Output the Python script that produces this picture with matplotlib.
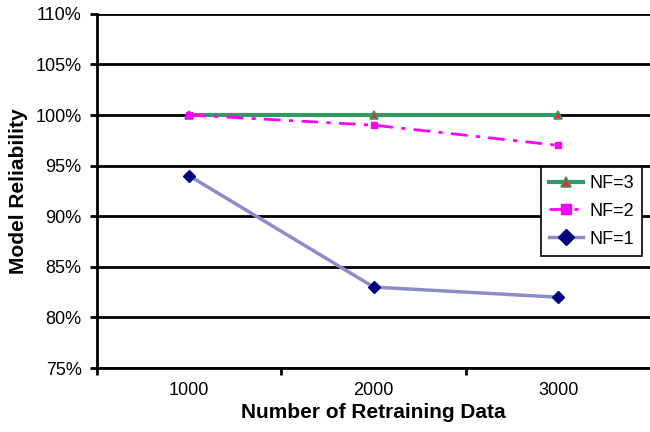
import matplotlib.pyplot as plt
from matplotlib.ticker import FuncFormatter, FixedLocator

# Model reliability vs. amount of retraining data
retrain_sizes = ["1000", "2000", "3000"]
nf3 = [100, 100, 100]
nf2 = [100, 99, 97]
nf1 = [94, 83, 82]

plt.rcParams['font.family'] = ['Liberation Sans', 'DejaVu Sans']

fig = plt.figure(figsize=(6.5, 4.32), dpi=100)
ax = fig.add_axes([0.149, 0.148, 0.852, 0.82])

x = list(range(len(retrain_sizes)))

ax.plot(x, nf3, color='#339966', lw=3, marker='^', ms=6,
        mfc='#ff2020', mec='#339966', mew=1.2, label='NF=3', zorder=4)
ax.plot(x, nf2, color='#ff00ff', lw=2, ls=(0, (6, 3, 1.5, 3)), marker='s', ms=5,
        mfc='#ff00ff', mec='#ff00ff', label='NF=2', zorder=5)
ax.plot(x, nf1, color='#8c8cc8', lw=2.5, marker='D', ms=6,
        mfc='#000080', mec='#000080', label='NF=1', zorder=3)

ax.set_xlim(-0.5, 2.5)
ax.set_ylim(75, 110)
ax.set_xticks(x)
ax.set_xticklabels(retrain_sizes)
ax.xaxis.set_minor_locator(FixedLocator([-0.5, 0.5, 1.5, 2.5]))
ax.tick_params(axis='x', which='major', length=0, labelsize=13, pad=10)
ax.tick_params(axis='x', which='minor', length=5, width=2, direction='out')
ax.set_yticks(range(75, 111, 5))
ax.yaxis.set_major_formatter(FuncFormatter(lambda v, p: '%d%%' % v))
ax.tick_params(axis='y', length=5, width=2, labelsize=13, pad=6)

ax.grid(axis='y', color='black', lw=2)
ax.set_axisbelow(True)
for s in ['top', 'right']:
    ax.spines[s].set_visible(False)
for s in ['left', 'bottom']:
    ax.spines[s].set_linewidth(2)

ax.set_xlabel('Number of Retraining Data', fontsize=15, fontweight='bold', labelpad=3)
ax.set_ylabel('Model Reliability', fontsize=15, fontweight='bold', labelpad=5)

leg = ax.legend(loc='upper left', bbox_to_anchor=(0.802, 0.568), fontsize=13,
                frameon=True, fancybox=False, edgecolor='black', framealpha=1,
                handlelength=1.9, borderpad=0.45, labelspacing=0.6,
                handletextpad=0.35, borderaxespad=0, markerscale=1.3)
leg.get_frame().set_linewidth(1.2)

fig.savefig('out.png', dpi=100)
